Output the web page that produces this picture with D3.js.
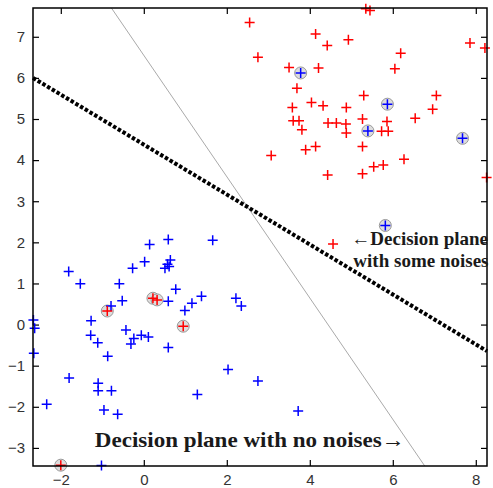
<!DOCTYPE html>
<html>
<head>
<meta charset="utf-8">
<script src="https://cdn.jsdelivr.net/npm/d3@7/dist/d3.min.js"></script>
<style>
  body { margin: 0; background: #fff; }
  .tick text { font-family: "Liberation Sans", Arial, sans-serif; font-size: 15px; fill: #333; }
  .note { font-family: "Liberation Serif", "Times New Roman", serif; font-weight: bold; font-size: 19px; fill: #1a1a1a; }
</style>
</head>
<body>
<div id="chart"></div>
<script>
// class 1 (red) samples
const redPoints = [
  [2.55, 7.35], [5.35, 7.68], [5.45, 7.64], [4.14, 7.07], [4.42, 6.79], [4.93, 6.93],
  [2.75, 6.50], [3.50, 6.25], [4.21, 6.24], [6.19, 6.60], [6.05, 6.22], [7.86, 6.85],
  [8.22, 6.73], [3.69, 5.75], [5.30, 5.57], [7.05, 5.57], [6.96, 5.24], [3.58, 5.28],
  [4.04, 5.40], [4.32, 5.32], [4.88, 5.28], [3.60, 4.96], [3.74, 4.96], [3.81, 4.74],
  [4.44, 4.90], [4.64, 4.90], [4.87, 4.88], [4.88, 4.66], [5.27, 5.00], [5.86, 4.94],
  [5.73, 4.70], [5.89, 4.70], [6.54, 5.02], [3.90, 4.25], [4.14, 4.33], [5.27, 4.33],
  [3.07, 4.11], [6.27, 4.02], [5.54, 3.84], [5.77, 3.88], [4.43, 3.64], [5.27, 3.67],
  [8.26, 3.58], [4.56, 1.96]
];
// class 2 (blue) samples
const bluePoints = [
  [0.14, 1.95], [0.59, 2.07], [1.66, 2.05], [-1.81, 1.29], [-1.53, 0.99], [-0.27, 1.37],
  [0.02, 1.53], [0.51, 1.37], [0.61, 1.41], [0.57, 1.47], [0.64, 1.57], [-0.59, 0.99],
  [-0.52, 0.58], [-0.79, 0.45], [0.77, 0.86], [0.59, 0.57], [1.39, 0.69], [1.16, 0.52],
  [0.99, 0.34], [2.22, 0.64], [2.35, 0.45], [-1.27, 0.09], [-2.66, 0.11], [-2.63, -0.09],
  [-2.65, -0.70], [-1.28, -0.26], [-1.11, -0.44], [-0.43, -0.13], [-0.24, -0.34], [-0.31, -0.47],
  [-0.06, -0.26], [0.11, -0.30], [0.59, -0.56], [-0.87, -0.77], [-1.80, -1.30], [-1.10, -1.43],
  [-1.10, -1.61], [-0.78, -1.61], [-0.96, -2.08], [-0.63, -2.18], [-2.34, -1.94], [2.03, -1.09],
  [1.29, -1.70], [-1.02, -3.43], [2.75, -1.37], [3.72, -2.10]
];
// mislabelled samples (circled)
const redNoise = [[-0.88, 0.33], [0.22, 0.64], [0.32, 0.60], [0.95, -0.04], [-2.0, -3.42]];
const blueNoise = [[3.78, 6.12], [5.87, 5.36], [5.40, 4.71], [7.68, 4.53], [5.82, 2.41]];

// decision planes (end points)
const planeNoisy = [[-2.67, 6.0], [8.27, -0.645]];
const planeClean = [[-0.78, 7.7], [6.77, -3.44]];

const xTicks = [-2, 0, 2, 4, 6, 8];
const yTicks = [-3, -2, -1, 0, 1, 2, 3, 4, 5, 6, 7];

const margin = { top: 8, right: 6, bottom: 22, left: 33 };
const width = 493 - margin.left - margin.right;
const height = 488 - margin.top - margin.bottom;

const svg = d3.select("#chart").append("svg")
  .attr("width", 493).attr("height", 488)
  .append("g")
  .attr("transform", `translate(${margin.left},${margin.top})`);

const x = d3.scaleLinear().domain([-2.67, 8.27]).range([0, width]);
const y = d3.scaleLinear().domain([-3.44, 7.7]).range([height, 0]);

const tick = 6;
svg.append("g").attr("transform", `translate(0,${height})`)
  .call(d3.axisBottom(x).tickValues(xTicks).tickSizeInner(-tick).tickSizeOuter(0).tickPadding(8));
svg.append("g")
  .call(d3.axisLeft(y).tickValues(yTicks).tickSizeInner(-tick).tickSizeOuter(0).tickPadding(8));
svg.append("g")
  .call(d3.axisTop(x).tickValues(xTicks).tickSizeInner(-tick).tickSizeOuter(0).tickFormat(""));
svg.append("g").attr("transform", `translate(${width},0)`)
  .call(d3.axisRight(y).tickValues(yTicks).tickSizeInner(-tick).tickSizeOuter(0).tickFormat(""));
svg.selectAll(".domain").remove();
svg.selectAll(".tick line").attr("stroke", "#000").attr("stroke-width", 1.2);

const line = d3.line().x(d => x(d[0])).y(d => y(d[1]));

svg.append("path").datum(planeClean)
  .attr("d", line).attr("fill", "none")
  .attr("stroke", "#aaa").attr("stroke-width", 1);

svg.append("path").datum(planeNoisy)
  .attr("d", line).attr("fill", "none")
  .attr("stroke", "#000").attr("stroke-width", 4)
  .attr("stroke-dasharray", "3.5,2");

// circles behind the noisy samples
svg.selectAll(".ring").data(redNoise.concat(blueNoise)).enter()
  .append("circle").attr("class", "ring")
  .attr("cx", d => x(d[0])).attr("cy", d => y(d[1])).attr("r", 6)
  .attr("fill", "#ddd").attr("stroke", "#999").attr("stroke-width", 1);

const plus = "M-5,0H5M0,-5V5";
function drawPlus(data, color) {
  svg.append("g").selectAll("path").data(data).enter()
    .append("path")
    .attr("d", plus)
    .attr("transform", d => `translate(${x(d[0])},${y(d[1])})`)
    .attr("fill", "none")
    .attr("stroke", color).attr("stroke-width", 1.5);
}
drawPlus(redPoints, "#ff0000");
drawPlus(bluePoints, "#0000ff");
drawPlus(redNoise, "#ff0000");
drawPlus(blueNoise, "#0000ff");

// frame
svg.append("rect")
  .attr("width", width).attr("height", height)
  .attr("fill", "none").attr("stroke", "#000").attr("stroke-width", 1.5);

svg.append("text").attr("class", "note")
  .attr("x", x(5.0)).attr("y", y(1.94))
  .text("\u2190Decision plane");
svg.append("text").attr("class", "note")
  .attr("x", x(5.05)).attr("y", y(1.41))
  .text("with some noises");
svg.append("text").attr("class", "note")
  .attr("x", x(-1.18)).attr("y", y(-2.98))
  .style("font-size", "21px")
  .attr("textLength", 310).attr("lengthAdjust", "spacingAndGlyphs")
  .text("Decision plane with no noises\u2192");
</script>
</body>
</html>
